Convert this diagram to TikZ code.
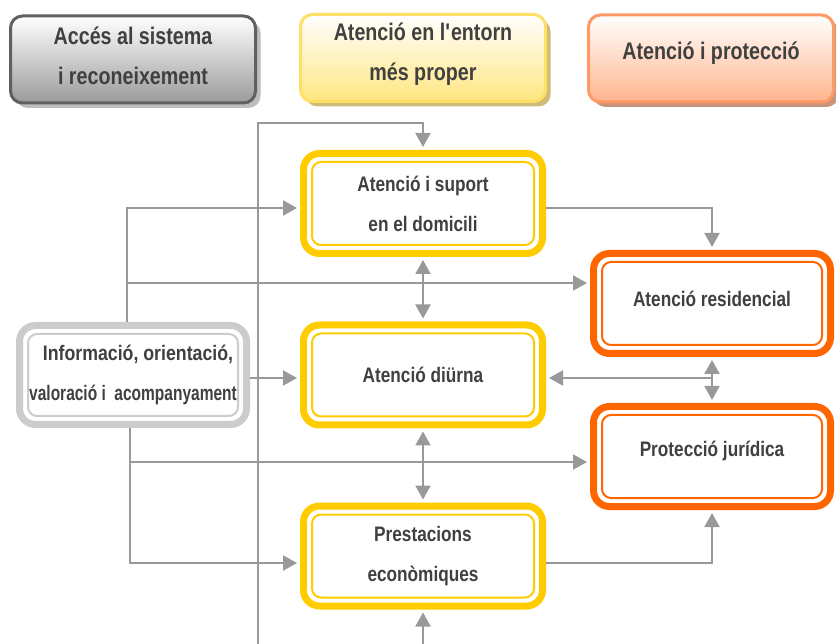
\documentclass[tikz,border=0pt]{standalone}
\usepackage{fontspec}
\setmainfont{Liberation Sans}[FakeStretch=0.82]
\usetikzlibrary{arrows.meta,calc,shadows}
\definecolor{txt}{HTML}{404040}
\definecolor{conn}{HTML}{999999}
\definecolor{yel}{HTML}{FFCC00}
\definecolor{org}{HTML}{FF6600}
\definecolor{gry}{HTML}{CCCCCC}
\definecolor{hgbd}{HTML}{606060}
\definecolor{hgbt}{HTML}{9A9A9A}
\definecolor{hgsh}{HTML}{BDBDBD}
\definecolor{hybd}{HTML}{FFE066}
\definecolor{hybt}{HTML}{FFE680}
\definecolor{hysh}{HTML}{CDBB77}
\definecolor{hobd}{HTML}{FF9966}
\definecolor{hobt}{HTML}{FFB48C}
\definecolor{hosh}{HTML}{C8957A}
\newcommand\mainfnt{\fontsize{21}{40}\selectfont\bfseries}
\newcommand\headfnt{\fontsize{24}{40}\selectfont\bfseries}
\newcommand\dblin[2]{\draw[#2, line width=2pt, rounded corners=9pt] ($(#1.north west)+(12,12)$) rectangle ($(#1.south east)+(-12,-12)$);}
\begin{document}
\begin{tikzpicture}[x=1pt,y=-1pt,
  mainbox/.style={draw=#1, line width=7pt, rounded corners=16pt, outer sep=3.5pt,
    minimum width=239pt, minimum height=100pt, inner sep=0pt, align=center,
    text=txt, font=\mainfnt, fill=white},
  hbox/.style={line width=3pt, rounded corners=12pt, minimum width=245pt,
    minimum height=87pt, inner sep=0pt},
  htext/.style={align=center, text=txt, font=\headfnt, inner sep=0pt},
  txtlab/.style={text=txt, font=\mainfnt, inner sep=0pt},
  arr/.style={draw=conn, line width=2pt, -{Triangle[width=15pt,length=14pt]}, shorten >=3pt},
  arrboth/.style={draw=conn, line width=2pt, {Triangle[width=15pt,length=14pt]}-{Triangle[width=15pt,length=14pt]}, shorten >=3pt, shorten <=3pt},
  plain/.style={draw=conn, line width=2pt}]
\useasboundingbox (0,0) rectangle (836,644);
\clip (0,0) rectangle (836,644);
\fill[white] (0,0) rectangle (836,644);

% header boxes
\node[hbox, draw=hgbd, top color=white, bottom color=hgbt,
  drop shadow={shadow xshift=5pt, shadow yshift=-5pt, fill=hgsh, opacity=1}] (h1) at (133,59.5) {};
\node[hbox, draw=hybd, top color=white, bottom color=hybt,
  drop shadow={shadow xshift=5pt, shadow yshift=-5pt, fill=hysh, opacity=1}] (h2) at (423,58) {};
\node[hbox, draw=hobd, top color=white, bottom color=hobt,
  drop shadow={shadow xshift=5pt, shadow yshift=-5pt, fill=hosh, opacity=1}] (h3) at (711,58.5) {};
\node[htext] (h1t) at ($(h1)+(0,-4)$) {Accés al sistema\\i reconeixement};
\node[htext] (h2t) at ($(h2)+(0,-4)$) {Atenció en l\textquotesingle entorn\\més proper};
\node[htext] (h3t) at ($(h3)+(0,-5)$) {Atenció i protecció};

% coordinates
\coordinate (lb1) at (423,670);
\coordinate (lb2) at (258,670);
\coordinate (lt) at (258,123);
\coordinate (tt) at (423,123);
\coordinate (j1) at (127,283);
\coordinate (j2) at (130,462);
\coordinate (j3) at (712,378);

% boxes
\node[mainbox=yel] (dom) at (423,203.5) {Atenció i suport\\en el domicili};
\node[mainbox=yel] (diu) at (423,375) {Atenció diürna};
\node[mainbox=yel] (pre) at (423,556) {Prestacions\\econòmiques};
\node[mainbox=org, minimum width=237pt, label={[txtlab, yshift=5pt]center:Atenció residencial}] (res) at (712,303.5) {};
\node[mainbox=org, minimum width=237pt, label={[txtlab, yshift=6pt]center:Protecció jurídica}] (pro) at (712,456.5) {};
\node[mainbox=gry, minimum width=227pt, minimum height=99pt] (info) at (133,375) {\hspace*{10pt}\scalebox{1.03}[1]{Informació, orientació,}\\\scalebox{0.9}[1]{valoració i\ \ acompanyament}};
\dblin{dom}{yel}
\dblin{diu}{yel}
\dblin{pre}{yel}
\dblin{res}{org}
\dblin{pro}{org}
\dblin{info}{gry}

% connectors
\draw[arrboth] (pre.south) -- (lb1) -- (lb2) -- (lt) -- (tt) -- (dom.north);
\draw[arr] ($(info.north)+(-6,0)$) |- ($(dom.west)+(0,4.5)$);
\draw[arr] (j1) -- (j1 -| res.west);
\draw[arr] ($(info.east)+(0,3)$) -- ($(diu.west)+(0,3)$);
\draw[arr] ($(info.south)+(-3,0)$) |- ($(pre.west)+(0,7)$);
\draw[arr] (j2) -- (j2 -| pro.west);
\draw[arrboth] (dom.south) -- (diu.north);
\draw[arrboth] (diu.south) -- (pre.north);
\draw[arr] ($(dom.east)+(0,4.5)$) -| (res.north);
\draw[arrboth] (res.south) -- (pro.north);
\draw[arr] (j3) -- (j3 -| diu.east);
\draw[arr] ($(pre.east)+(0,7)$) -| (pro.south);
\end{tikzpicture}
\end{document}
